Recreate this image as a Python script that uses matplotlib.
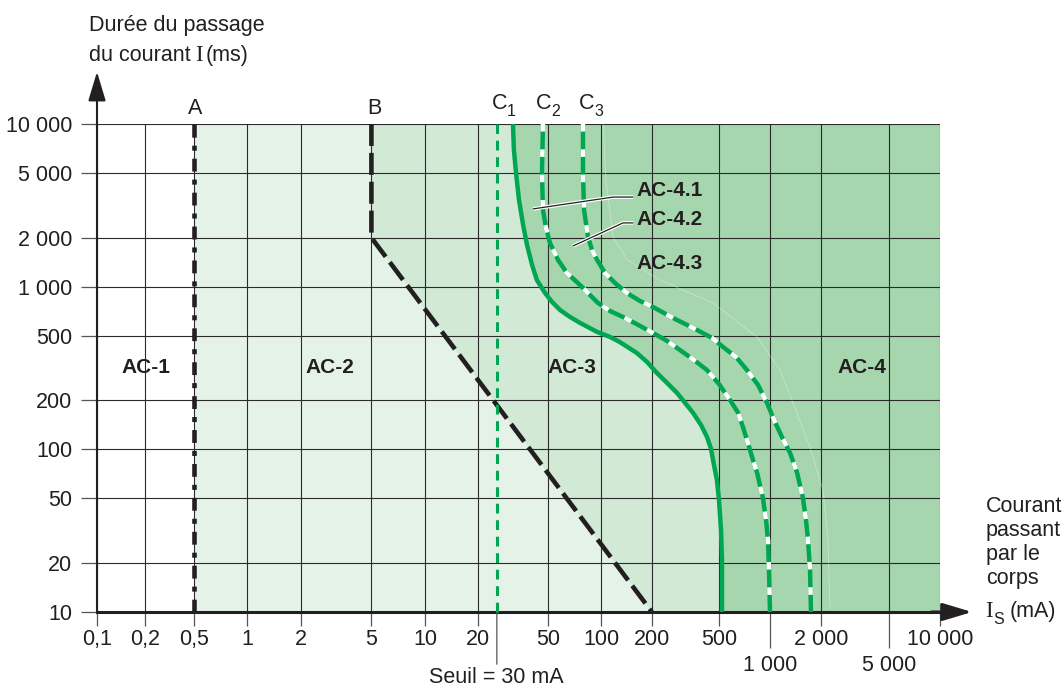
import numpy as np
import matplotlib
matplotlib.use("Agg")
import matplotlib.pyplot as plt
from matplotlib.ticker import NullLocator

# ---------------- data ----------------
x_major_ticks = [0.1, 0.2, 0.5, 1, 2, 5, 10, 20, 50, 100, 200, 500, 2000, 10000]
x_major_labels = ["0,1", "0,2", "0,5", "1", "2", "5", "10", "20", "50", "100",
                  "200", "500", "2 000", "10 000"]
x_lower_ticks = [1000, 5000]
x_lower_labels = ["1 000", "5 000"]
y_ticks = [10, 20, 50, 100, 200, 500, 1000, 2000, 5000, 10000]
y_labels = ["10", "20", "50", "100", "200", "500", "1 000", "2 000", "5 000", "10 000"]

# curve A (vertical at 0.5 mA)
a_current = [0.5, 0.5]
a_time = [10, 10000]
# curve B
b_current = [5, 5, 200]
b_time = [10000, 2000, 10]
# threshold line (drawn position) "Seuil = 30 mA"
seuil_current = [25.6, 25.6]
seuil_time = [10, 10000]

c1_current = [31.6, 32.0, 32.9, 34.2, 36.1, 38.0, 40.6, 43.2, 48.1, 52.7, 58.5,
              66.7, 76, 95, 113, 129, 163, 187, 214, 246, 282, 350, 391, 424,
              448, 460, 485, 499, 513, 520, 520]
c1_time = [10000, 6918, 5000, 3412, 2393, 1803, 1358, 1099, 914, 806, 719,
           651, 599, 527, 491, 457, 391, 345, 295, 256, 222, 168, 141, 119,
           100.6, 86, 64.9, 48.9, 32, 20.9, 10]

c2_current = [46.8, 46.2, 46.8, 48.7, 51.3, 57.0, 64.1, 76.0, 84.4, 96.1, 113,
              135, 166, 203, 246, 293, 355, 424, 499, 580, 647, 692, 741, 793,
              838, 909, 947, 973, 986, 1000]
c2_time = [10000, 5000, 2958, 2296, 1856, 1459, 1213, 1024, 914, 794, 709,
           651, 582, 519, 464, 408, 354, 307, 252, 201, 168, 137, 109, 86,
           72, 50, 36.8, 27.7, 18.2, 10]

c3_current = [79.0, 79.0, 80.1, 84.4, 88.9, 95.1, 105.6, 121, 142.5, 170, 203,
              267, 370, 454, 527, 629, 731, 849, 960, 1070, 1176, 1312, 1442,
              1564, 1628, 1674, 1719, 1742]
c3_time = [10000, 5000, 2958, 2018, 1681, 1459, 1213, 1054, 914, 817, 750,
           642, 542, 484, 426, 370, 307, 249, 193, 147, 119, 95, 72,
           50, 36.8, 27.7, 18.2, 10]

ghost_current = [103, 107, 118, 143, 223, 460, 838, 1145, 1365, 1718, 2051, 2193, 2254]
ghost_time = [10000, 4530, 2018, 1459, 1099, 794, 491, 307, 193, 103, 56, 27.7, 10.6]

zone_labels = ["AC-1", "AC-2", "AC-3", "AC-4"]
zone_label_current = [0.202, 2.93, 68.4, 3475]
zone_label_time = [320, 320, 320, 320]

sub_labels = ["AC-4.1", "AC-4.2", "AC-4.3"]
sub_label_current = [163, 163, 163]
sub_label_time = [3925, 2606, 1380]
leader1_current = [41.1, 118, 155]
leader1_time = [3006, 3555, 3555]
leader2_current = [69.3, 135, 155]
leader2_time = [1778, 2466, 2466]

# ---------------- style ----------------
plt.rcParams["font.family"] = ["Liberation Sans", "DejaVu Sans"]

TXT = "#231f20"
GREEN = "#00a651"
AC2_COL = "#e4f2e8"
AC3_COL = "#d2e9d6"
AC4_COL = "#a6d6ae"
FS = 15.5
FSB = 15
FSSUB = 11.5

# axis geometry of the drawing (non-uniform log decades of the original)
KNOT_LOG = np.log10([0.1, 0.2, 0.5, 1, 10, 100, 1000, 10000])
KNOT_POS = np.array([0, 48, 97, 150, 328, 504, 673, 843], float)


def fwd(x):
    x = np.asarray(x, float)
    with np.errstate(divide="ignore", invalid="ignore"):
        u = np.log10(np.where(x > 0, x, np.nan))
    out = np.interp(u, KNOT_LOG, KNOT_POS)
    out = np.where(u < KNOT_LOG[0], (u - KNOT_LOG[0]) * 150 + KNOT_POS[0], out)
    out = np.where(u > KNOT_LOG[-1], (u - KNOT_LOG[-1]) * 170 + KNOT_POS[-1], out)
    return out


def inv(v):
    v = np.asarray(v, float)
    u = np.interp(v, KNOT_POS, KNOT_LOG)
    u = np.where(v < KNOT_POS[0], KNOT_LOG[0] + (v - KNOT_POS[0]) / 150, u)
    u = np.where(v > KNOT_POS[-1], KNOT_LOG[-1] + (v - KNOT_POS[-1]) / 170, u)
    return 10 ** u


W, H = 1064, 688
fig = plt.figure(figsize=(W / 100, H / 100), dpi=100)
ax = fig.add_axes([97 / W, (H - 612) / H, 843 / W, 488 / H])
ax.set_xscale("function", functions=(fwd, inv))
ax.set_yscale("log")
ax.set_xlim(0.1, 10000)
ax.set_ylim(10, 10000)
ax.patch.set_alpha(0)

# zones
ax.fill([0.5, 10000, 10000, 0.5], [10, 10, 10000, 10000], color=AC2_COL, lw=0, zorder=0.1)
ax.fill(b_current + [10000, 10000], b_time + [10, 10000], color=AC3_COL, lw=0, zorder=0.2)
ax.fill(c1_current + [10000, 10000], c1_time + [10, 10000], color=AC4_COL, lw=0, zorder=0.3)

# ticks and grid
ax.set_xticks(x_major_ticks, x_major_labels)
ax.set_xticks(x_lower_ticks, x_lower_labels, minor=True)
ax.set_yticks(y_ticks, y_labels)
ax.yaxis.set_minor_locator(NullLocator())
ax.set_axisbelow(True)
ax.grid(True, which="both", axis="x", color="#2a2a2a", lw=0.8)
ax.grid(True, which="major", axis="y", color="#2a2a2a", lw=0.8)
ax.tick_params(axis="x", which="major", length=10, width=0.9, pad=2.5,
               color="#555555", labelsize=FS, labelcolor=TXT)
ax.tick_params(axis="x", which="minor", length=26, width=0.9, pad=4.7,
               color="#555555", labelsize=FS, labelcolor=TXT)
ax.tick_params(axis="y", which="major", length=11.5, width=0.9, pad=6.5,
               color="#555555", labelsize=FS, labelcolor=TXT)

for s in ["top", "right"]:
    ax.spines[s].set_visible(False)
ax.spines["left"].set_linewidth(1.5)
ax.spines["bottom"].set_linewidth(2.2)
ax.spines["left"].set_color(TXT)
ax.spines["bottom"].set_color(TXT)

# axis arrows
ax.annotate("", xy=(1.038, 0), xytext=(0.99, 0), xycoords="axes fraction",
            arrowprops=dict(arrowstyle="-|>,head_length=1.5,head_width=0.45",
                            lw=2.2, color=TXT, shrinkA=0, shrinkB=0, mutation_scale=12),
            annotation_clip=False)
ax.annotate("", xy=(0, 1.107), xytext=(0, 0.99), xycoords="axes fraction",
            arrowprops=dict(arrowstyle="-|>,head_length=1.5,head_width=0.45",
                            lw=1.5, color=TXT, shrinkA=0, shrinkB=0, mutation_scale=12),
            annotation_clip=False)

# faint ghost line
ax.plot(ghost_current, ghost_time, color="white", lw=0.6, alpha=0.35, zorder=1)

# curves
ax.plot(a_current, a_time, color=TXT, lw=3.3, dashes=(2.8, 1.75, 1.1, 1.75),
        dash_capstyle="butt", zorder=4, clip_on=False)
ax.plot(b_current, b_time, color=TXT, lw=3.3, dashes=(4.8, 1.5),
        dash_capstyle="butt", zorder=4, clip_on=False)
ax.plot(seuil_current, seuil_time, color=GREEN, lw=2.2, dashes=(3.2, 2.2),
        dash_capstyle="butt", zorder=4, clip_on=False)
ax.plot(c1_current, c1_time, color=GREEN, lw=3.2, zorder=4, clip_on=False,
        solid_joinstyle="round", solid_capstyle="butt")
for cx, cy in [(c2_current, c2_time), (c3_current, c3_time)]:
    ax.plot(cx, cy, color=GREEN, lw=3.2, zorder=4, clip_on=False,
            solid_joinstyle="round", solid_capstyle="butt")
    ax.plot(cx, cy, color="white", lw=3.2, dashes=(1.7, 4.0), dash_capstyle="butt",
            zorder=5, clip_on=False)

# leaders
for lx, ly in [(leader1_current, leader1_time), (leader2_current, leader2_time)]:
    ax.plot(lx, ly, color="white", lw=2.6, zorder=6, solid_capstyle="butt")
    ax.plot(lx, ly, color=TXT, lw=0.9, zorder=7, solid_capstyle="butt")

# zone labels
for t, xc, yc in zip(zone_labels, zone_label_current, zone_label_time):
    ax.text(xc, yc, t, ha="center", va="center", fontsize=FSB, fontweight="bold",
            color=TXT, zorder=8)
for t, xc, yc in zip(sub_labels, sub_label_current, sub_label_time):
    ax.text(xc, yc, t, ha="left", va="center", fontsize=FSB, fontweight="bold",
            color=TXT, zorder=8)


def ft(x, y, s, **kw):
    kw.setdefault("fontsize", FS)
    kw.setdefault("color", TXT)
    fig.text(x / W, 1 - y / H, s, **kw)


# curve names
ft(195, 114, "A", ha="center", va="baseline")
ft(374, 114, "B", ha="center", va="baseline")
for xl, sub in [(492, "1"), (536, "2"), (579, "3")]:
    ft(xl, 109, "C", ha="left", va="baseline")
    ft(xl + 15, 116, sub, ha="left", va="baseline", fontsize=FSSUB)

# axis titles
ft(89, 30.5, "Durée du passage", ha="left", va="baseline")
ft(89, 61, "du courant", ha="left", va="baseline")
ft(195, 61, "I", ha="left", va="baseline", family="Liberation Serif", fontsize=16.5)
ft(206, 61, "(ms)", ha="left", va="baseline")
for yb, s in zip([512, 536, 560, 584], ["Courant", "passant", "par le", "corps"]):
    ft(986, yb, s, ha="left", va="baseline")
ft(985, 617, "I", ha="left", va="baseline", family="Liberation Serif", fontsize=16.5)
ft(993, 624, "S", ha="left", va="baseline", fontsize=FSSUB)
ft(1010, 617, "(mA)", ha="left", va="baseline")

# threshold tick below the axis and label
ax.annotate("", xy=(seuil_current[0], 0), xytext=(seuil_current[0], -0.107),
            xycoords=("data", "axes fraction"),
            arrowprops=dict(arrowstyle="-", color="#555555", lw=0.9,
                            shrinkA=0, shrinkB=0), annotation_clip=False)
ft(496, 683, "Seuil = 30 mA", ha="center", va="baseline")

fig.savefig("out.png", dpi=100)
